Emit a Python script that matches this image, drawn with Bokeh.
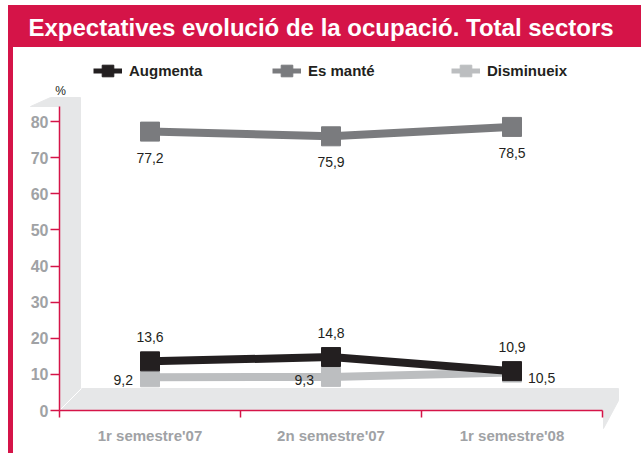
from bokeh.plotting import figure
from bokeh.models import (Range1d, FixedTicker, Legend, LegendItem, Label, LinearAxis)
from bokeh.core.properties import value
from bokeh.embed import file_html
from bokeh.resources import INLINE

# ---------------- data ----------------
categories = ["1r semestre'07", "2n semestre'07", "1r semestre'08"]
augmenta = [13.6, 14.8, 10.9]
es_mante = [77.2, 75.9, 78.5]
disminueix = [9.2, 9.3, 10.5]
y_ticks = [0, 10, 20, 30, 40, 50, 60, 70, 80]
series_names = ["Augmenta", "Es manté", "Disminueix"]
title_text = "Expectatives evolució de la ocupació. Total sectors"
y_unit = "%"

# ---------------- style ----------------
CRIMSON = "#d51448"
BLACK = "#231f20"
DARK = "#7a7b7e"
LIGHT = "#bcbec0"
WALL = "#e6e7e8"
TICK_TXT = "#a0a2a5"
SANS = "Liberation Sans"

W, H = 641, 453
X0_PX, XS = 59.0, 181.0      # px of x=0, px per category
Y0_PX, YS = 410.0, 3.6125    # px of y=0, px per unit


def gx(px):
    return (px - X0_PX) / XS


def gy(py):
    return (Y0_PX - py) / YS


def fmt(v):
    return f"{v:.1f}".replace(".", ",")


p = figure(width=W, height=H, output_backend="svg", toolbar_location=None, title=None,
           x_range=Range1d(gx(0), gx(W)), y_range=Range1d(gy(H), gy(0)),
           min_border=0, x_axis_type=None, y_axis_type=None)
p.outline_line_color = None
p.background_fill_color = "white"
p.border_fill_color = "white"

# title bar and left border
p.quad(left=gx(8), right=gx(641), top=gy(5), bottom=gy(46), color=CRIMSON)
p.quad(left=gx(8), right=gx(12), top=gy(5), bottom=gy(453), color=CRIMSON)
p.add_layout(Label(x=gx(28), y=gy(27), text=title_text, text_color="white",
                   text_font=SANS, text_font_size="24px", text_font_style="bold",
                   text_baseline="middle"))

# 3D wall and floor
p.patch(x=[gx(30), gx(50), gx(80), gx(80), gx(59), gx(59)],
        y=[gy(106), gy(97), gy(97), gy(388), gy(410), gy(106)], color=WALL)
p.patch(x=[gx(59), gx(81), gx(618), gx(618), gx(603), gx(603)],
        y=[gy(410), gy(388), gy(388), gy(400), gy(428), gy(410)], color=WALL)
p.line(x=[gx(59), gx(81)], y=[gy(410), gy(388)], color="white", line_width=1)

# axes
yaxis = LinearAxis(fixed_location=0, bounds=(0, 84.2), ticker=FixedTicker(ticks=y_ticks),
                   axis_line_color=CRIMSON, axis_line_width=1.5,
                   major_tick_line_color=CRIMSON, major_tick_line_width=1.5,
                   major_tick_in=0, major_tick_out=9, minor_tick_line_color=None,
                   major_label_text_color=TICK_TXT, major_label_text_font=SANS,
                   major_label_text_font_size="16px", major_label_text_font_style="bold",
                   major_label_standoff=2)
p.add_layout(yaxis, "left")

xs = [i + 0.5 for i in range(len(categories))]
bounds_x = [float(i) for i in range(len(categories) + 1)]
xaxis = LinearAxis(fixed_location=0, bounds=(0, len(categories)),
                   ticker=FixedTicker(ticks=xs, minor_ticks=bounds_x),
                   major_label_overrides={x: c for x, c in zip(xs, categories)},
                   axis_line_color=CRIMSON, axis_line_width=1.5,
                   major_tick_in=0, major_tick_out=0, major_tick_line_color=None,
                   minor_tick_in=0, minor_tick_out=7, minor_tick_line_color=CRIMSON,
                   minor_tick_line_width=1.5,
                   major_label_text_color=TICK_TXT, major_label_text_font=SANS,
                   major_label_text_font_size="15px", major_label_text_font_style="bold",
                   major_label_standoff=9)
p.add_layout(xaxis, "below")

p.add_layout(Label(x=gx(60), y=gy(90), text=y_unit, text_align="center",
                   text_baseline="middle", text_font=SANS, text_font_size="12px",
                   text_color=BLACK))

# series
for vals, col in [(es_mante, DARK), (disminueix, LIGHT), (augmenta, BLACK)]:
    p.line(x=xs, y=vals, line_width=8, color=col)
    p.scatter(x=xs, y=vals, marker="square", size=19, color=col)

lab_kw = dict(text_font=value(SANS), text_font_size="14px", text_color=BLACK,
              text_baseline="middle")
p.text(x=xs, y=es_mante, text=[fmt(v) for v in es_mante], text_align="center",
       y_offset=26, **lab_kw)
p.text(x=xs, y=augmenta, text=[fmt(v) for v in augmenta], text_align="center",
       y_offset=-24, **lab_kw)
# disminueix: first two labels on the left, last on the right
p.text(x=xs[:2], y=disminueix[:2], text=[fmt(v) for v in disminueix[:2]],
       text_align="right", x_offset=-17, y_offset=3, **lab_kw)
p.text(x=xs[2:], y=disminueix[2:], text=[fmt(v) for v in disminueix[2:]],
       text_align="left", x_offset=16, y_offset=5, **lab_kw)

# legend (legend-only renderers with a single NaN point)
nan = float("nan")
items = []
for name, col in zip(series_names, [BLACK, DARK, LIGHT]):
    lr = p.line(x=[nan], y=[nan], line_width=5, color=col)
    sr = p.scatter(x=[nan], y=[nan], marker="square", color=col)
    items.append(LegendItem(label=name, renderers=[lr, sr]))
legend = Legend(items=items, orientation="horizontal", location=(93, 366),
                glyph_width=29, glyph_height=33, label_standoff=7, label_width=130,
                spacing=13, padding=0, margin=0, border_line_color=None,
                background_fill_alpha=0, label_text_font=SANS,
                label_text_font_style="bold", label_text_font_size="15px",
                label_text_color=BLACK, label_height=20)
p.add_layout(legend)

open("out.html", "w").write(file_html(p, INLINE))
